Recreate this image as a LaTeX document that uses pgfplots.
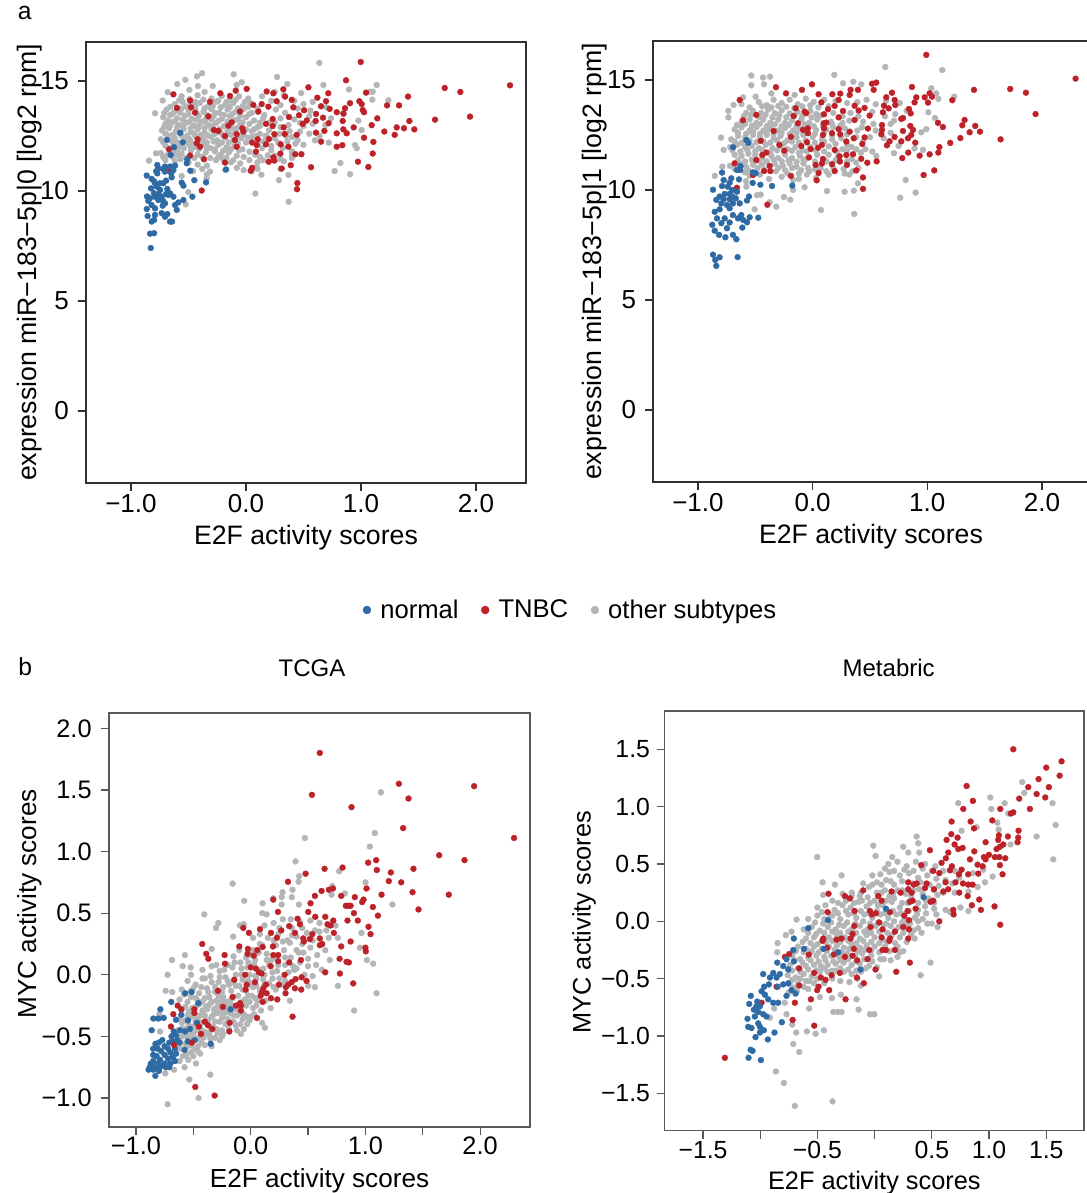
\documentclass[border=0pt]{standalone}
\usepackage{pgfplots}
\pgfplotsset{compat=1.18}
\usepackage{fontspec}
\setmainfont{Liberation Sans}
\definecolor{cblue}{HTML}{2E6BA4}
\definecolor{cred}{HTML}{BE2229}
\definecolor{cgray}{HTML}{B4B5B7}
\definecolor{cframe}{HTML}{303030}
\pgfplotsset{
 base/.style={scale only axis,axis line style={draw=cframe,line width=1pt},
  tick pos=left,xtick pos=bottom,ytick pos=left,
  tick style={draw=cframe,line width=0.9pt},major tick length=6pt,tick align=outside,
  every tick label/.append style={font=\fontsize{19.5}{20}\selectfont},
  label style={font=\fontsize{20}{20}\selectfont}},
 pG/.style={only marks,color=cgray,mark=*,mark size=2.2pt,mark options={solid,draw=cgray,fill=cgray,line width=0.3pt},forget plot},
 pR/.style={only marks,color=cred,mark=*,mark size=2.2pt,mark options={solid,draw=cred,fill=cred,line width=0.3pt},forget plot},
 pB/.style={only marks,color=cblue,mark=*,mark size=2.2pt,mark options={solid,draw=cblue,fill=cblue,line width=0.3pt},forget plot}}
\begin{document}
\begin{tikzpicture}[x=1pt,y=1pt]
\useasboundingbox[fill=white] (0,0) rectangle (815.25,894.75);
\node[font=\fontsize{18.5}{20}\selectfont] at (18.5,885) {a};
\node[font=\fontsize{18.5}{20}\selectfont] at (19,395) {b};
\node[font=\fontsize{18}{20}\selectfont] at (234,393.5) {TCGA};
\node[font=\fontsize{18}{20}\selectfont] at (666.5,393.5) {Metabric};
% ---------- a1
\begin{axis}[base,at={(64.5pt,532.5pt)},anchor=south west,width=330pt,height=330.75pt,
 xmin=-1.391,xmax=2.435,ymin=-3.27,ymax=16.77,
 xtick={-1,0,1,2},xticklabels={−1.0,0.0,1.0,2.0},ytick={0,5,10,15},yticklabels={0,5,10,15},
 y tick label style={xshift=-3.25pt},x tick label style={yshift=1pt},
 xlabel={E2F activity scores},ylabel={expression miR−183−5p|0 [log2 rpm]},
 xlabel style={at={(axis description cs:0.5,-0.123)},anchor=center},
 ylabel style={at={(axis description cs:-0.127,0.5)},anchor=center},
 legend style={at={(axis description cs:1.102,-0.288)},anchor=center,draw=none,fill=none,legend columns=3,font=\fontsize{19.2}{20}\selectfont,/tikz/every even column/.append style={column sep=15pt},/tikz/every odd column/.append style={column sep=5pt}}]
\addlegendimage{only marks,mark=*,mark size=3pt,mark options={draw=cblue,fill=cblue,line width=0.3pt}}\addlegendentry{normal}
\addlegendimage{only marks,mark=*,mark size=3pt,mark options={draw=cred,fill=cred,line width=0.3pt}}\addlegendentry{TNBC}
\addlegendimage{only marks,mark=*,mark size=3pt,mark options={draw=cgray,fill=cgray,line width=0.3pt}}\addlegendentry{other subtypes}
\addplot[pG] coordinates {(0.638,15.82)(-0.107,15.30)(-0.382,15.35)(-0.426,15.21)(-0.527,15.05)(-0.597,14.86)(0.270,15.18)(0.360,14.86)(0.673,14.82)(1.137,14.82)(0.896,14.61)(1.102,14.51)(1.079,14.51)(1.099,14.15)(1.238,14.12)(0.977,13.2)(1.006,12.77)(0.948,12.09)(0.963,11.94)(0.821,11.27)(0.771,10.91)(0.905,10.76)(0.369,10.73)(0.287,10.49)(0.134,10.74)(0.082,9.88)(0.371,9.51)(-0.524,9.39)(-0.501,9.95)(-0.342,10.58)(-0.313,10.88)(-0.559,10.68)(-0.843,11.38)(-0.782,11.71)(-0.791,13.53)(-0.724,14.11)(-0.681,14.49)(-0.492,14.59)(-0.417,14.77)(-0.289,14.77)(-0.081,14.82)(-0.037,14.94)
(-0.56,14.3)(-0.49,14.18)(-0.42,14.35)(-0.36,14.5)(-0.3,14.2)(-0.21,14.32)(-0.14,14.12)(-0.06,14.3)(0.02,14.2)(0.14,14.3)(0.25,14.5)(0.33,14.35)(0.48,14.45)
(-0.62,13.95)(-0.55,14.05)(-0.48,13.9)(-0.40,14.0)(-0.33,13.85)(-0.26,14.05)(-0.18,13.92)(-0.11,14.0)(-0.03,13.85)(0.04,14.0)(0.22,14.1)(0.3,13.9)(0.42,14.1)(0.5,13.95)(0.58,14.05)(0.7,13.8)
(-0.69,13.7)(-0.62,13.6)(-0.56,13.75)(-0.5,13.65)(-0.44,13.75)(-0.37,13.6)(-0.3,13.72)(-0.23,13.55)(-0.16,13.7)(-0.09,13.6)(-0.02,13.72)(0.05,13.55)(0.26,13.7)(0.34,13.55)(0.45,13.75)(0.56,13.65)(0.85,13.5)
(-0.72,13.35)(-0.66,13.45)(-0.6,13.3)(-0.53,13.42)(-0.47,13.28)(-0.41,13.4)(-0.35,13.25)(-0.28,13.42)(-0.21,13.28)(-0.14,13.4)(-0.07,13.25)(0,13.35)(0.07,13.2)(0.16,13.45)(0.3,13.3)(0.42,13.25)(0.55,13.4)(0.74,13.3)
(-0.7,13.05)(-0.64,13.15)(-0.58,13.0)(-0.52,13.1)(-0.45,12.98)(-0.39,13.12)(-0.33,13.0)(-0.26,13.1)(-0.19,12.95)(-0.12,12.85)(-0.05,13.0)(0.03,13.05)(0.1,12.9)(0.2,13.1)(0.37,13.0)(0.47,13.1)(0.58,13.05)(0.69,13.0)
(-0.73,12.75)(-0.67,12.85)(-0.61,12.7)(-0.54,12.82)(-0.48,12.68)(-0.42,12.8)(-0.36,12.65)(-0.3,12.8)(-0.22,12.65)(-0.16,12.72)(-0.09,12.68)(-0.02,12.55)(0.05,12.72)(0.12,12.6)(0.2,12.75)(0.29,12.6)(0.38,12.72)(0.47,12.7)(0.55,12.6)(0.64,12.5)
(-0.74,12.35)(-0.68,12.52)(-0.62,12.4)(-0.56,12.5)(-0.49,12.35)(-0.44,12.5)(-0.37,12.35)(-0.3,12.45)(-0.25,12.3)(-0.18,12.42)(-0.11,12.3)(-0.04,12.4)(0.05,12.45)(0.15,12.25)(0.25,12.4)(0.36,12.25)(0.43,12.15)(0.6,12.3)(0.72,12.2)
(-0.7,12.05)(-0.63,12.15)(-0.58,12.0)(-0.5,12.15)(-0.45,12.0)(-0.37,12.12)(-0.31,11.95)(-0.24,12.1)(-0.17,11.98)(-0.1,12.05)(-0.03,11.9)(0.03,11.78)(0.14,11.95)(0.22,11.85)(0.32,11.95)(0.4,11.8)
(-0.74,11.72)(-0.68,11.65)(-0.62,11.78)(-0.56,11.7)(-0.48,11.82)(-0.42,11.65)(-0.35,11.75)(-0.27,11.8)(-0.22,11.65)(-0.15,11.75)(-0.08,11.6)(-0.02,11.55)(0.12,11.55)(0.19,11.62)(0.3,11.45)(0.4,11.5)
(-0.7,11.4)(-0.62,11.35)(-0.57,11.45)(-0.5,11.3)(-0.42,11.2)(-0.34,11.15)(-0.26,11.4)(-0.2,11.45)(-0.13,11.3)(-0.05,11.25)(0.03,11.4)(0.09,11.1)(0.3,11.0)
(-0.46,10.9)(-0.38,11.0)(-0.18,10.95)(-0.08,11.05)(-0.02,10.95)(0.05,10.9)(0.1,11.0)(-0.34,10.75)
(-0.58,14.12)(-0.44,14.05)(-0.37,14.15)(-0.24,14.1)(-0.17,14.05)(-0.09,14.15)(-0.01,14.05)
(-0.66,13.82)(-0.59,13.75)(-0.52,13.85)(-0.44,13.88)(-0.36,13.75)(-0.29,13.85)(-0.22,13.8)(-0.14,13.82)(-0.07,13.75)(0.02,13.82)(0.1,13.75)
(-0.71,13.55)(-0.64,13.5)(-0.57,13.55)(-0.5,13.5)(-0.43,13.55)(-0.34,13.45)(-0.27,13.55)(-0.19,13.45)(-0.12,13.5)(-0.05,13.42)(0.03,13.5)
(-0.68,13.2)(-0.62,13.15)(-0.55,13.25)(-0.49,13.15)(-0.43,13.25)(-0.37,13.15)(-0.3,13.25)(-0.24,13.18)(-0.16,13.15)(-0.1,13.22)(-0.03,13.12)(0.12,13.1)
(-0.71,12.92)(-0.66,12.95)(-0.6,12.88)(-0.55,12.95)(-0.48,12.85)(-0.41,12.95)(-0.36,12.85)(-0.29,12.95)(-0.23,12.82)(-0.16,12.9)(-0.08,12.85)(0.0,12.8)(0.07,12.8)
(-0.7,12.6)(-0.64,12.55)(-0.58,12.62)(-0.51,12.52)(-0.45,12.6)(-0.39,12.55)(-0.33,12.52)(-0.27,12.6)(-0.2,12.52)(-0.13,12.55)(-0.06,12.5)(0.02,12.42)(0.09,12.5)(0.17,12.5)
(-0.72,12.22)(-0.65,12.28)(-0.59,12.2)(-0.53,12.3)(-0.47,12.18)(-0.41,12.3)(-0.34,12.2)(-0.28,12.25)(-0.21,12.2)(-0.15,12.2)(-0.07,12.15)(0.0,12.2)(0.1,12.1)
(-0.67,11.95)(-0.6,11.88)(-0.54,11.95)(-0.48,11.98)(-0.41,11.9)(-0.34,11.95)(-0.27,11.9)(-0.2,11.82)(-0.13,11.9)(-0.06,11.85)
(-0.72,11.55)(-0.64,11.55)(-0.59,11.6)(-0.52,11.5)(-0.45,11.5)(-0.38,11.55)(-0.31,11.5)(-0.24,11.55)(-0.17,11.52)(-0.11,11.4)
(0.1,13.6)(0.15,13.3)(0.25,13.1)(0.3,12.9)(0.35,12.5)(0.4,12.45)(0.5,12.95)(0.12,12.95)(0.18,12.5)(0.28,12.2)(0.08,11.65)(0.15,11.4)(0.45,12.3)(0.5,12.1)(0.25,11.6)(0.33,11.35)(0.1,11.3)(0.22,12.05)(0.1,12.2)(0.4,11.65)};
\addplot[pR] coordinates {(0.998,15.86)(0.870,15.03)(2.296,14.80)(1.728,14.68)(1.864,14.50)(1.409,14.29)(1.044,14.47)(0.716,14.44)(0.543,14.71)(0.325,14.62)(0.180,14.52)(0.238,14.44)(0.006,14.64)(-0.089,14.56)(-0.223,14.44)(-0.139,14.32)(-0.631,14.39)(-0.486,14.11)(-0.313,14.05)(-0.600,13.77)(-0.478,13.80)(-0.443,13.56)(-0.327,13.39)(0.064,13.91)(0.137,13.95)(0.195,13.83)(0.108,13.61)(0.267,14.08)(0.340,14.29)(0.398,14.14)(0.412,13.80)(0.505,13.67)(0.621,14.24)(0.696,14.08)(0.653,13.85)(0.728,13.73)(0.609,13.50)(0.670,13.33)(0.606,13.18)(0.528,13.20)(0.493,13.05)(0.461,13.44)(0.374,13.36)(0.232,13.27)(0.174,13.05)(0.232,12.95)(0.328,12.89)(0.337,12.59)(0.247,12.58)(0.441,12.55)(0.682,12.73)(0.609,12.65)(0.719,13.08)(0.789,13.58)(0.847,13.52)(0.861,13.76)(0.905,13.99)(0.986,14.08)(1.006,13.95)(1.015,13.68)(1.027,13.58)(1.142,13.30)(1.227,13.89)(1.331,13.89)(1.093,12.99)(0.841,13.18)(0.937,12.89)(0.847,12.80)(0.876,12.62)(0.789,12.62)(1.027,12.42)(1.108,12.23)(1.203,12.70)(1.311,12.89)(1.293,12.55)(1.374,12.85)(1.421,13.18)(1.464,12.80)(1.644,13.24)(1.948,13.38)(0.653,12.24)(0.789,12.01)(0.838,12.08)(1.102,11.70)(0.974,11.33)(1.064,11.09)(0.566,11.08)(0.389,11.17)(0.311,11.02)(0.447,10.36)(0.444,10.08)(0.482,11.67)(0.429,11.67)(0.369,12.01)(0.302,12.12)(0.299,11.70)(0.238,11.53)(0.247,11.38)(0.198,11.33)(0.200,12.36)(0.174,12.12)(0.102,12.35)(0.093,12.09)(0.053,12.20)(0.087,11.79)(0.053,11.05)(0.041,10.92)(-0.031,12.85)(-0.023,12.70)(-0.081,12.58)(-0.095,12.32)(-0.081,12.01)(-0.182,12.50)(-0.153,12.97)(-0.124,13.12)(-0.052,13.61)(-0.278,12.77)(-0.240,12.73)(-0.420,12.35)(-0.428,12.17)(-0.399,12.01)(-0.486,11.61)(-0.365,11.44)(-0.669,11.89)(-0.182,11.29)(-0.385,10.02)(-0.666,10.92)};
\addplot[pB] coordinates {(-0.571,12.65)(-0.687,12.32)(-0.550,12.21)(-0.626,11.99)(-0.655,11.64)(-0.510,11.44)(-0.515,11.26)(-0.484,10.92)(-0.173,10.98)(-0.771,11.18)(-0.617,11.15)(-0.660,11.11)(-0.704,11.11)(-0.762,11.03)(-0.771,10.80)(-0.704,10.88)(-0.631,10.95)(-0.646,10.62)(-0.695,10.47)(-0.863,10.70)(-0.820,10.55)(-0.559,10.38)(-0.544,10.24)(-0.449,10.49)(-0.347,10.39)(-0.466,9.74)(-0.826,10.12)(-0.776,10.20)(-0.747,10.05)(-0.684,10.09)(-0.660,9.89)(-0.631,9.74)(-0.834,9.67)(-0.791,9.74)(-0.733,9.74)(-0.695,9.86)(-0.849,9.55)(-0.762,9.59)(-0.704,9.44)(-0.820,9.36)(-0.791,9.21)(-0.724,9.33)(-0.544,9.59)(-0.588,9.48)(-0.617,9.36)(-0.602,9.14)(-0.863,9.18)(-0.855,8.86)(-0.791,8.91)(-0.733,8.99)(-0.684,8.95)(-0.704,8.83)(-0.820,8.61)(-0.799,8.68)(-0.660,8.61)(-0.643,8.61)(-0.834,8.06)(-0.799,8.08)(-0.828,7.41)(-0.747,10.35)(-0.791,10.35)(-0.718,10.35)(-0.675,9.82)(-0.78,10.9)(-0.72,11.0)(-0.65,10.8)(-0.80,9.9)(-0.72,9.55)(-0.76,9.85)(-0.80,10.45)(-0.86,9.75)};
\end{axis}
% ---------- a2
\begin{axis}[base,at={(489.75pt,533.25pt)},anchor=south west,width=327pt,height=330.75pt,
 xmin=-1.392,xmax=2.41,ymin=-3.27,ymax=16.77,
 xtick={-1,0,1,2},xticklabels={−1.0,0.0,1.0,2.0},ytick={0,5,10,15},yticklabels={0,5,10,15},
 y tick label style={xshift=-3.25pt},x tick label style={yshift=1pt},
 xlabel={E2F activity scores},ylabel={expression miR−183−5p|1 [log2 rpm]},
 xlabel style={at={(axis description cs:0.5,-0.123)},anchor=center},
 ylabel style={at={(axis description cs:-0.134,0.5)},anchor=center}]
\addplot[pG] coordinates {(0.634,15.59)(1.131,15.45)(-0.535,15.2)(-0.433,15.11)(-0.372,15.15)(-0.535,14.76)(-0.424,14.8)(0.189,15.23)(0.265,14.85)(0.355,14.92)(0.424,14.8)(1.035,14.62)(1.078,14.39)(1.096,14.14)(1.235,14.24)(1.009,13.53)(1.067,13.27)(0.991,12.76)(0.947,12.62)(0.962,11.82)(0.889,11.89)(0.709,11.67)(0.811,10.45)(0.898,9.88)(0.764,9.65)(0.363,8.91)(0.073,9.09)(0.125,9.95)(0.279,9.92)(0.360,9.97)(0.395,10.3)(-0.07,10.12)(-0.171,10.0)(-0.195,9.56)(-0.25,9.68)(-0.317,9.24)(-0.375,9.44)(-0.453,9.79)(-0.485,9.76)(-0.506,9.12)(-0.578,10.15)(-0.854,10.64)(-0.787,11.06)(-0.799,12.38)(-0.776,11.82)(-0.735,13.6)(-0.735,13.3)(-0.689,13.86)(-0.607,14.21)(-0.497,14.24)(-0.36,14.39)(-0.157,14.32)(0.555,11.55)
(-0.62,13.9)(-0.55,13.75)(-0.47,14.0)(-0.4,13.85)(-0.34,14.1)(-0.27,13.95)(-0.2,14.1)(-0.13,13.9)(-0.06,14.15)(0.01,14.0)(0.1,14.1)(0.2,14.05)(0.3,13.95)(0.39,14.0)(0.47,14.1)(0.55,13.9)(0.64,14.05)(0.76,13.95)
(-0.58,13.5)(-0.52,13.6)(-0.45,13.5)(-0.39,13.65)(-0.33,13.5)(-0.27,13.62)(-0.2,13.48)(-0.13,13.55)(-0.02,13.6)(0.03,13.45)(0.18,13.5)(0.26,13.35)(0.33,13.5)(0.4,13.35)(0.52,13.55)(0.63,13.35)(0.72,13.45)(0.82,13.6)
(-0.62,13.1)(-0.55,13.2)(-0.49,13.05)(-0.43,13.2)(-0.37,13.05)(-0.3,13.2)(-0.24,13.05)(-0.18,13.15)(-0.1,13.2)(-0.03,13.05)(0.04,13.2)(0.16,13.1)(0.26,13.05)(0.32,13.15)(0.44,13.1)(0.53,13.0)(0.68,13.0)(0.71,13.15)
(-0.68,12.75)(-0.62,12.85)(-0.55,12.7)(-0.49,12.85)(-0.43,12.7)(-0.37,12.82)(-0.3,12.7)(-0.24,12.82)(-0.17,12.7)(-0.11,12.8)(-0.05,12.65)(0.03,12.72)(0.12,12.75)(0.18,12.85)(0.28,12.8)(0.39,12.7)(0.43,12.85)(0.55,12.7)(0.68,12.6)
(-0.71,12.3)(-0.65,12.45)(-0.59,12.38)(-0.52,12.5)(-0.46,12.4)(-0.4,12.5)(-0.34,12.35)(-0.28,12.45)(-0.22,12.25)(-0.14,12.4)(-0.08,12.55)(0.0,12.4)(0.08,12.3)(0.17,12.3)(0.25,12.35)(0.38,12.4)(0.5,12.4)(0.62,12.35)(0.75,12.0)
(-0.72,11.95)(-0.66,12.05)(-0.59,11.95)(-0.53,12.0)(-0.47,11.9)(-0.41,12.05)(-0.35,11.9)(-0.28,12.0)(-0.22,11.85)(-0.15,11.95)(-0.09,11.8)(-0.02,11.95)(0.14,11.98)(0.26,11.85)(0.34,11.95)(0.46,11.85)(0.52,11.75)
(-0.68,11.6)(-0.62,11.55)(-0.56,11.65)(-0.5,11.6)(-0.44,11.45)(-0.36,11.55)(-0.3,11.45)(-0.24,11.6)(-0.18,11.45)(-0.11,11.55)(-0.06,11.4)(0.04,11.6)(0.14,11.6)(0.21,11.75)(0.34,11.4)(0.42,11.7)
(-0.72,11.1)(-0.64,11.2)(-0.58,11.05)(-0.52,11.15)(-0.44,11.15)(-0.33,11.2)(-0.26,11.1)(-0.2,11.2)(-0.14,11.05)(-0.08,11.2)(-0.04,11.0)(0.02,10.95)(0.12,10.85)(0.28,10.75)(0.32,10.7)(0.4,11.0)
(-0.59,10.8)(-0.55,10.65)(-0.46,10.7)(-0.32,10.85)(-0.27,10.6)(-0.22,10.75)(-0.12,10.75)(-0.05,10.7)(0.03,10.55)(0.14,10.7)(-0.17,10.45)(-0.38,10.5)(-0.58,10.4)(-0.12,10.5)
(-0.44,13.8)(-0.36,13.75)(-0.3,13.82)(-0.23,13.78)(-0.16,13.72)(-0.09,13.8)(-0.02,13.85)(0.05,13.75)(0.14,13.8)
(-0.6,13.35)(-0.54,13.4)(-0.47,13.32)(-0.41,13.42)(-0.35,13.3)(-0.29,13.4)(-0.23,13.3)(-0.16,13.38)(-0.09,13.35)(-0.01,13.3)(0.07,13.38)
(-0.66,12.95)(-0.59,13.0)(-0.53,12.92)(-0.46,13.0)(-0.4,12.9)(-0.33,12.98)(-0.27,12.9)(-0.21,12.95)(-0.14,12.9)(-0.07,12.98)(0.01,12.9)(0.09,12.9)(0.17,12.98)(0.24,12.92)
(-0.65,12.6)(-0.58,12.55)(-0.52,12.65)(-0.46,12.55)(-0.4,12.65)(-0.34,12.55)(-0.27,12.6)(-0.2,12.55)(-0.14,12.6)(-0.08,12.5)(0.02,12.55)(0.1,12.6)(0.17,12.5)(0.3,12.52)
(-0.68,12.2)(-0.62,12.15)(-0.55,12.25)(-0.49,12.18)(-0.43,12.22)(-0.37,12.15)(-0.31,12.25)(-0.25,12.12)(-0.18,12.2)(-0.12,12.15)(-0.06,12.25)(0.02,12.15)(0.1,12.2)(0.2,12.1)(0.3,12.05)(0.44,12.2)
(-0.7,11.8)(-0.63,11.75)(-0.57,11.82)(-0.5,11.75)(-0.44,11.82)(-0.37,11.72)(-0.31,11.8)(-0.25,11.72)(-0.18,11.78)(-0.12,11.7)(-0.05,11.75)(0.03,11.8)(0.1,11.75)(0.22,11.5)(0.3,11.78)(0.38,11.85)
(-0.65,11.35)(-0.59,11.3)(-0.53,11.38)(-0.47,11.32)(-0.4,11.3)(-0.34,11.38)(-0.27,11.3)(-0.21,11.35)(-0.14,11.28)(-0.08,11.35)(0.02,11.3)(0.12,11.3)(0.2,11.35)(0.3,11.3)(0.38,11.25)
(-0.68,10.95)(-0.56,10.9)(-0.48,11.0)(-0.42,10.92)(-0.3,11.0)(-0.24,10.9)(-0.18,11.0)(-0.1,10.9)(-0.03,10.85)(0.07,10.98)(0.18,11.0)(0.27,10.95)(0.35,10.85)};
\addplot[pR] coordinates {(0.991,16.14)(2.293,15.06)(1.723,14.59)(1.860,14.42)(1.944,13.45)(1.407,14.55)(1.218,14.08)(0.866,14.68)(1.020,14.39)(1.041,14.24)(0.977,14.21)(1.006,13.97)(0.904,14.21)(0.889,13.98)(0.715,14.09)(0.721,13.86)(0.692,14.42)(0.642,14.21)(0.622,13.83)(0.663,13.71)(0.613,13.53)(0.555,14.88)(0.518,14.83)(0.532,14.55)(0.395,14.55)(0.331,14.55)(0.323,14.32)(0.241,14.38)(0.227,14.09)(0.172,14.35)(0.052,14.35)(0.076,13.98)(-0.006,14.80)(-0.093,14.55)(-0.232,14.39)(-0.320,14.67)(-0.636,14.09)(-0.491,13.41)(-0.607,13.17)(-0.148,13.71)(-0.070,13.56)(-0.055,13.49)(-0.166,13.36)(-0.128,13.03)(0.134,13.67)(0.099,13.44)(0.192,13.82)(0.265,13.59)(0.227,13.30)(0.366,13.83)(0.401,13.61)(0.453,13.73)(0.366,13.18)(0.497,13.38)(0.119,13.06)(0.096,13.03)(0.099,12.80)(-0.041,12.80)(-0.084,12.73)(-0.041,12.58)(0.090,12.50)(0.169,12.58)(0.227,12.76)(0.241,12.53)(0.323,12.65)(0.294,12.20)(0.358,12.35)(0.453,12.39)(0.482,12.79)(0.605,12.95)(0.605,12.73)(0.599,12.53)(0.788,13.27)(0.773,13.23)(0.840,13.68)(0.855,13.48)(0.852,12.91)(0.875,12.73)(0.788,12.68)(0.860,12.50)(0.831,12.35)(0.773,12.21)(0.715,12.41)(0.671,12.21)(0.648,12.03)(0.895,12.15)(1.093,13.05)(1.136,12.86)(1.325,13.18)(1.305,12.94)(1.418,12.91)(1.369,12.62)(1.459,12.65)(1.639,12.30)(1.288,12.36)(1.200,12.14)(1.105,11.95)(1.096,11.70)(1.020,11.62)(0.933,11.56)(0.834,11.70)(0.782,11.45)(1.061,10.89)(0.968,10.68)(-0.340,12.68)(-0.189,12.42)(-0.453,12.23)(-0.290,12.05)(-0.247,11.79)(-0.404,11.70)(-0.439,11.59)(-0.491,11.36)(-0.680,11.21)(-0.375,11.09)(-0.424,10.86)(-0.369,10.86)(-0.520,10.68)(-0.189,10.64)(-0.032,11.48)(-0.099,12.00)(-0.049,12.17)(-0.017,11.86)(0.047,11.92)(0.081,12.05)(0.192,11.82)(0.433,12.09)(0.352,11.62)(0.294,11.59)(0.235,11.53)(0.238,11.29)(0.090,11.41)(0.081,11.20)(0.026,11.14)(0.169,11.17)(0.299,11.14)(0.424,11.42)(0.477,11.24)(0.558,11.30)(0.192,10.86)(0.052,10.77)(0.035,10.44)(0.381,10.89)(0.439,10.57)(0.439,10.05)(-0.395,9.33)(-0.66,10.1)};
\addplot[pB] coordinates {(-0.578,12.27)(-0.561,12.14)(-0.694,11.94)(-0.628,11.09)(-0.660,10.91)(-0.631,10.91)(-0.520,10.80)(-0.497,10.76)(-0.790,10.79)(-0.709,10.53)(-0.642,10.48)(-0.776,10.45)(-0.724,10.33)(-0.523,10.32)(-0.456,10.24)(-0.354,10.18)(-0.177,10.20)(-0.869,10.01)(-0.790,10.18)(-0.700,10.00)(-0.660,9.92)(-0.724,9.82)(-0.767,9.82)(-0.811,9.70)(-0.840,9.55)(-0.776,9.58)(-0.724,9.58)(-0.555,9.70)(-0.572,9.52)(-0.636,9.39)(-0.796,9.39)(-0.747,9.32)(-0.695,9.39)(-0.724,9.17)(-0.811,9.12)(-0.854,9.01)(-0.767,8.71)(-0.695,8.86)(-0.651,8.71)(-0.622,8.86)(-0.607,8.64)(-0.549,8.76)(-0.474,8.74)(-0.572,8.53)(-0.613,8.29)(-0.875,8.42)(-0.834,8.71)(-0.796,8.49)(-0.724,8.52)(-0.747,8.26)(-0.854,8.15)(-0.816,7.96)(-0.761,7.85)(-0.695,7.96)(-0.665,7.76)(-0.869,7.06)(-0.811,6.94)(-0.849,6.82)(-0.840,6.55)(-0.654,6.95)(-0.70,9.70)(-0.67,9.62)(-0.74,10.15)};
\end{axis}
% ---------- b1
\begin{axis}[base,at={(81.75pt,49.5pt)},anchor=south west,width=315.75pt,height=310.5pt,
 axis line style={draw=black!65,line width=0.9pt},tick style={draw=black!65,line width=0.9pt},
 xmin=-1.235,xmax=2.435,ymin=-1.235,ymax=2.124,
 xtick={-1,-0.5,0,0.5,1,1.5,2},xticklabels={−1.0,,0.0,,1.0,,2.0},
 ytick={-1,-0.5,0,0.5,1,1.5,2},yticklabels={−1.0,−0.5,0.0,0.5,1.0,1.5,2.0},
 every tick label/.append style={font=\fontsize{19}{20}\selectfont},
 y tick label style={xshift=-3.5pt},x tick label style={yshift=2pt},
 xlabel={E2F activity scores},ylabel={MYC activity scores},
 label style={font=\fontsize{19.6}{20}\selectfont},
 xlabel style={at={(axis description cs:0.5,-0.13)},anchor=center},
 ylabel style={at={(axis description cs:-0.188,0.539)},anchor=center}]
\addplot[pG] coordinates {(1.135,1.48)(1.082,1.15)(1.039,1.04)(0.473,1.11)(0.391,0.92)(0.772,0.84)(0.423,0.80)(0.418,0.755)(-0.157,0.74)(1.001,0.75)(1.236,0.57)(0.711,0.72)(0.821,0.66)(0.705,0.65)(-0.056,0.60)(0.278,0.67)(0.365,0.69)(0.359,0.63)(0.270,0.63)(0.197,0.62)(0.104,0.58)(0.270,0.57)(0.420,0.57)(0.101,0.50)(0.139,0.49)(-0.404,0.49)(-0.282,0.42)(-0.303,0.38)(-0.094,0.40)(-0.06,0.41)(0.966,0.34)(0.952,0.22)(1.013,0.12)(1.068,0.09)(1.097,-0.15)(0.902,-0.29)(0.760,-0.09)(0.690,0.12)(0.560,-0.10)(0.502,-0.09)(-0.573,0.16)(-0.686,0.12)(-0.593,0.07)(-0.523,0.06)(-0.724,0.0)(-0.520,0.0)(-0.741,-0.13)(-0.683,-0.14)(-0.340,0.21)(-0.152,0.31)(-0.352,-0.81)(-0.535,-0.85)(-0.454,-1.0)(-0.724,-1.05)(-0.477,-0.72)(-0.544,-0.69)(-0.576,-0.75)(-0.668,-0.77)(-0.744,-0.80)(-0.085,-0.48)(0.124,-0.43)(0.342,-0.21)(0.174,-0.27)(-0.79,-0.46)(-0.796,-0.32)
(0.12,0.4)(0.2,0.42)(0.28,0.45)(0.36,0.38)(0.43,0.43)(0.52,0.44)(0.6,0.42)(0.66,0.36)(0.74,0.4)(0.02,0.3)(0.08,0.33)(0.15,0.3)(0.24,0.33)(0.32,0.28)(0.4,0.31)(0.49,0.34)(0.56,0.36)(0.68,0.3)(0.76,0.3)
(-0.15,0.15)(-0.1,0.2)(-0.04,0.14)(0.02,0.2)(0.08,0.25)(0.14,0.17)(0.22,0.24)(0.29,0.2)(0.34,0.26)(0.4,0.2)(0.46,0.18)(0.52,0.22)(0.58,0.16)(0.65,0.2)
(-0.42,0.04)(-0.34,0.07)(-0.27,0.03)(-0.2,0.08)(-0.14,0.1)(-0.08,0.05)(-0.02,0.1)(0.04,0.12)(0.11,0.05)(0.18,0.12)(0.24,0.08)(0.3,0.14)(0.37,0.07)(0.43,0.1)(0.5,0.13)(0.57,0.08)(0.62,0.04)
(-0.55,-0.05)(-0.48,-0.08)(-0.4,-0.03)(-0.34,-0.06)(-0.27,-0.02)(-0.2,-0.05)(-0.13,0.0)(-0.07,-0.04)(-0.01,0.0)(0.05,-0.03)(0.12,0.0)(0.19,0.02)(0.25,-0.03)(0.33,0.02)(0.4,0.05)(0.47,0.0)(0.54,-0.01)
(-0.6,-0.12)(-0.52,-0.13)(-0.45,-0.15)(-0.38,-0.11)(-0.31,-0.14)(-0.24,-0.1)(-0.17,-0.13)(-0.1,-0.09)(-0.04,-0.13)(0.02,-0.1)(0.08,-0.13)(0.16,-0.07)(0.22,-0.12)(0.3,-0.05)
(-0.62,-0.2)(-0.55,-0.22)(-0.48,-0.19)(-0.42,-0.22)(-0.36,-0.18)(-0.3,-0.21)(-0.24,-0.18)(-0.18,-0.21)(-0.11,-0.17)(-0.05,-0.2)(0.01,-0.17)(0.06,-0.21)(0.13,-0.21)
(-0.6,-0.28)(-0.54,-0.3)(-0.48,-0.26)(-0.42,-0.29)(-0.37,-0.25)(-0.32,-0.28)(-0.27,-0.24)(-0.22,-0.27)(-0.16,-0.25)(-0.1,-0.28)(-0.04,-0.25)(0.02,-0.27)(0.09,-0.29)
(-0.62,-0.36)(-0.57,-0.37)(-0.51,-0.34)(-0.46,-0.35)(-0.4,-0.33)(-0.34,-0.34)(-0.29,-0.31)(-0.24,-0.33)(-0.18,-0.31)(-0.12,-0.33)(-0.06,-0.32)(0.0,-0.34)(0.1,-0.39)
(-0.63,-0.45)(-0.57,-0.44)(-0.5,-0.42)(-0.44,-0.44)(-0.38,-0.4)(-0.33,-0.42)(-0.27,-0.38)(-0.22,-0.4)(-0.15,-0.38)(-0.09,-0.4)(-0.03,-0.4)(-0.24,-0.48)(-0.29,-0.47)
(-0.62,-0.53)(-0.56,-0.5)(-0.5,-0.48)(-0.44,-0.5)(-0.39,-0.47)(-0.35,-0.52)(-0.27,-0.53)
(-0.61,-0.6)(-0.55,-0.58)(-0.49,-0.6)(-0.43,-0.55)(-0.59,-0.66)(-0.52,-0.63)(-0.46,-0.62)(-0.62,-0.7)
(-0.56,-0.65)(-0.5,-0.66)(-0.44,-0.64)(-0.63,-0.57)(-0.57,-0.56)(-0.52,-0.57)(-0.46,-0.58)(-0.4,-0.57)(-0.34,-0.58)
(-0.6,-0.5)(-0.53,-0.51)(-0.47,-0.52)(-0.41,-0.51)(-0.36,-0.49)(-0.31,-0.51)(-0.25,-0.5)
(-0.6,-0.44)(-0.54,-0.46)(-0.47,-0.45)(-0.41,-0.46)(-0.35,-0.45)(-0.3,-0.44)(-0.25,-0.45)(-0.19,-0.44)(-0.12,-0.45)(-0.06,-0.44)
(-0.6,-0.39)(-0.54,-0.41)(-0.48,-0.38)(-0.43,-0.39)(-0.37,-0.37)(-0.31,-0.38)(-0.25,-0.35)(-0.2,-0.36)(-0.13,-0.41)(-0.07,-0.36)(-0.01,-0.37)
(-0.55,-0.33)(-0.49,-0.31)(-0.44,-0.33)(-0.38,-0.28)(-0.32,-0.32)(-0.26,-0.3)(-0.21,-0.3)(-0.15,-0.33)(-0.09,-0.31)(-0.03,-0.34)(0.03,-0.32)
(-0.57,-0.26)(-0.51,-0.27)(-0.45,-0.24)(-0.39,-0.26)(-0.35,-0.23)(-0.29,-0.26)(-0.25,-0.21)(-0.19,-0.24)(-0.13,-0.28)(-0.07,-0.24)(-0.01,-0.22)(0.05,-0.25)
(-0.58,-0.16)(-0.52,-0.18)(-0.46,-0.21)(-0.4,-0.19)(-0.34,-0.22)(-0.28,-0.17)(-0.22,-0.22)(-0.16,-0.19)(-0.08,-0.22)(-0.02,-0.17)(0.04,-0.19)
(-0.5,-0.11)(-0.43,-0.1)(-0.37,-0.14)(-0.31,-0.1)(-0.25,-0.14)(-0.19,-0.08)(-0.13,-0.09)(-0.07,-0.12)(-0.01,-0.08)(0.05,-0.09)(0.12,-0.08)(0.2,-0.1)
(-0.42,-0.03)(-0.35,-0.01)(-0.28,-0.06)(-0.22,-0.02)(-0.15,-0.06)(-0.08,0.0)(-0.02,-0.05)(0.04,-0.01)(0.11,-0.04)(0.19,-0.03)(0.26,-0.08)
(-0.3,0.08)(-0.23,0.04)(-0.16,0.06)(-0.09,0.1)(-0.03,0.06)(0.03,0.08)(0.09,0.04)(0.16,0.08)(0.23,0.03)(0.3,0.08)(0.38,0.04)
(0.0,0.16)(0.07,0.18)(0.14,0.12)(0.21,0.14)(0.28,0.27)(0.35,0.14)(0.42,0.18)(0.5,0.07)(0.1,0.24)(0.2,0.28)(0.36,0.32)(0.45,0.25)(0.54,0.28)(0.6,0.35)(0.25,0.38)(0.35,0.45)(0.45,0.38)};
\addplot[pB] coordinates {(-0.570,-0.15)(-0.515,-0.14)(-0.456,-0.23)(-0.692,-0.22)(-0.787,-0.28)(-0.175,-0.28)(-0.848,-0.355)(-0.805,-0.355)(-0.758,-0.35)(-0.651,-0.365)(-0.605,-0.325)(-0.546,-0.37)(-0.468,-0.39)(-0.863,-0.45)(-0.616,-0.45)(-0.573,-0.46)(-0.529,-0.44)(-0.349,-0.56)(-0.488,-0.53)(-0.549,-0.54)(-0.576,-0.61)(-0.831,-0.82)
(-0.67,-0.46)(-0.65,-0.49)(-0.69,-0.5)(-0.64,-0.53)(-0.68,-0.54)(-0.62,-0.55)(-0.71,-0.55)(-0.8,-0.55)(-0.77,-0.53)(-0.83,-0.56)(-0.75,-0.58)(-0.72,-0.6)(-0.66,-0.6)(-0.85,-0.6)(-0.81,-0.6)(-0.78,-0.62)(-0.7,-0.63)(-0.65,-0.64)(-0.85,-0.65)(-0.82,-0.66)(-0.75,-0.65)(-0.68,-0.67)(-0.72,-0.68)(-0.79,-0.69)(-0.85,-0.7)(-0.87,-0.72)(-0.81,-0.72)(-0.75,-0.72)(-0.7,-0.72)(-0.66,-0.7)(-0.88,-0.75)(-0.84,-0.75)(-0.8,-0.76)(-0.78,-0.74)(-0.74,-0.75)(-0.71,-0.75)(-0.85,-0.77)(-0.89,-0.77)(-0.8,-0.78)};
\addplot[pR] coordinates {(0.603,1.80)(0.534,1.46)(1.292,1.55)(1.376,1.43)(1.948,1.53)(0.879,1.36)(1.329,1.19)(2.296,1.11)(1.643,0.97)(1.864,0.93)(1.727,0.65)(1.463,0.53)(1.411,0.67)(1.419,0.86)(1.222,0.83)(1.204,0.76)(1.312,0.75)(1.141,0.65)(1.094,0.93)(1.024,0.91)(1.100,0.85)(0.801,0.87)(0.644,0.86)(0.479,0.82)(0.325,0.755)(1.010,0.70)(0.717,0.70)(0.682,0.69)(0.618,0.68)(0.560,0.64)(0.789,0.64)(0.908,0.63)(0.984,0.61)(0.972,0.59)(0.830,0.56)(0.850,0.56)(0.871,0.56)(1.065,0.55)(0.900,0.50)(1.109,0.48)(0.522,0.58)(0.502,0.51)(0.563,0.47)(0.650,0.47)(0.720,0.44)(0.844,0.44)(0.934,0.44)(1.027,0.39)(1.045,0.33)(0.670,0.41)(0.696,0.40)(0.725,0.34)(0.429,0.41)(0.409,0.455)(0.336,0.395)(0.197,0.61)(0.238,0.51)(0.267,0.36)(0.386,0.34)(0.081,0.37)(-0.064,0.38)(-0.015,0.34)(0.177,0.34)(0.229,0.30)(0.458,0.295)(0.464,0.27)(0.516,0.29)(0.537,0.33)(0.603,0.295)(0.603,0.24)(0.624,0.25)(0.789,0.23)(0.871,0.27)(1.000,0.22)(1.004,0.19)(-0.422,0.25)(-0.387,0.17)(-0.369,0.13)(-0.227,0.16)(-0.224,0.09)(-0.099,0.23)(-0.024,0.21)(-0.027,0.17)(0.028,0.155)(0.057,0.20)(0.104,0.225)(0.194,0.23)(0.197,0.16)(0.240,0.16)(0.240,0.11)(0.336,0.10)(0.438,0.12)(0.775,0.13)(0.836,0.105)(0.856,0.10)(0.650,0.02)(0.778,0.01)(0.894,-0.07)(0.487,-0.05)(0.444,-0.02)(0.391,-0.035)(0.357,-0.06)(0.328,-0.08)(0.307,-0.10)(0.304,-0.15)(0.386,-0.11)(0.441,-0.12)(0.296,0.0)(0.246,-0.08)(0.174,0.07)(0.095,0.01)(0.072,0.02)(0.046,0.05)(0.000,0.06)(-0.047,-0.0)(0.037,-0.06)(-0.035,-0.08)(-0.044,-0.12)(-0.143,-0.04)(-0.285,-0.13)(-0.157,-0.18)(-0.242,-0.26)(-0.128,-0.25)(-0.093,-0.23)(-0.085,-0.25)(-0.085,-0.29)(0.133,-0.08)(0.110,-0.11)(0.101,-0.14)(0.139,-0.15)(0.087,-0.17)(0.104,-0.22)(0.177,-0.19)(0.232,-0.20)(0.055,-0.35)(0.365,-0.34)(-0.183,-0.39)(-0.186,-0.46)(-0.401,-0.38)(-0.372,-0.41)(-0.334,-0.44)(-0.451,-0.42)(-0.433,-0.48)(-0.512,-0.55)(-0.668,-0.57)(-0.695,-0.42)(-0.674,-0.32)(-0.636,-0.25)(-0.605,-0.28)(-0.491,-0.28)(-0.491,-0.31)(-0.483,-0.91)(-0.314,-0.98)};
\end{axis}
% ---------- b2
\begin{axis}[base,at={(498.5pt,46.7pt)},anchor=south west,width=314.5pt,height=314.8pt,
 axis line style={draw=black!65,line width=0.9pt},tick style={draw=black!65,line width=0.9pt},
 xmin=-1.835,xmax=1.83,ymin=-1.826,ymax=1.834,
 xtick={-1.5,-1,-0.5,0,0.5,1,1.5},xticklabels={−1.5,,−0.5,,0.5,1.0,1.5},
 ytick={-1.5,-1,-0.5,0,0.5,1,1.5},yticklabels={−1.5,−1.0,−0.5,0.0,0.5,1.0,1.5},
 every tick label/.append style={font=\fontsize{18.6}{20}\selectfont},
 y tick label style={xshift=-1.5pt},x tick label style={yshift=1.5pt},
 label style={font=\fontsize{19}{20}\selectfont},
 xlabel={E2F activity scores},ylabel={MYC activity scores},
 xlabel style={at={(axis description cs:0.5,-0.124)},anchor=center},
 ylabel style={at={(axis description cs:-0.192,0.497)},anchor=center}]
\addplot[pG] coordinates {(1.290,1.215)(1.308,1.12)(1.555,1.03)(1.582,0.84)(1.416,0.74)(1.561,0.54)(1.011,1.08)(1.020,0.98)(1.136,1.03)(1.168,0.94)(0.731,1.03)(0.760,0.79)(0.891,0.82)(1.072,0.86)(1.084,0.80)(0.367,0.74)(-0.012,0.66)(0.008,0.57)(0.250,0.65)(-0.502,0.56)(0.154,0.56)(0.294,0.60)(0.381,0.68)(0.390,0.60)(1.188,0.67)(1.031,0.39)(0.964,0.34)(-0.455,0.34)(-0.289,0.40)(-0.347,0.32)(-0.682,0.015)(-0.776,-0.12)(-0.726,-0.09)(-0.848,-0.19)(-0.851,-0.27)(0.489,-0.36)(0.402,-0.47)(0.040,-0.48)(-0.158,-0.68)(-0.140,-0.77)(-0.041,-0.81)(-0.003,-0.81)(-0.362,-0.79)(-0.324,-0.79)(-0.289,-0.79)(-0.373,-0.67)(-0.295,-0.64)(-0.478,-0.66)(-0.572,-0.76)(-0.770,-0.81)(-0.720,-0.90)(-0.592,-0.96)(-0.685,-0.97)(-0.516,-0.98)(-0.443,-0.95)(-0.711,-1.07)(-0.659,-1.14)(-0.863,-1.31)(-0.793,-1.41)(-0.697,-1.61)(-0.368,-1.57)(-0.878,-0.76)(-0.785,-0.71)(-0.915,-0.84)
(0.12,0.5)(0.05,0.41)(0.13,0.43)(0.2,0.52)(0.28,0.48)(0.36,0.52)(0.44,0.5)(0.53,0.48)(0.6,0.44)(-0.02,0.4)(0.06,0.32)(0.14,0.35)(0.22,0.4)(0.3,0.42)(0.38,0.38)(0.46,0.4)(0.54,0.37)(0.62,0.36)(0.74,0.38)(0.86,0.42)(0.95,0.45)
(-0.45,0.23)(-0.37,0.18)(-0.28,0.24)(-0.2,0.22)(-0.12,0.25)(-0.05,0.3)(0.02,0.25)(0.09,0.27)(0.16,0.24)(0.24,0.27)(0.32,0.22)(0.39,0.28)(0.47,0.2)(0.55,0.23)(0.7,0.25)(0.82,0.26)(0.9,0.3)
(-0.5,0.12)(-0.43,0.14)(-0.35,0.1)(-0.28,0.14)(-0.21,0.12)(-0.14,0.17)(-0.07,0.13)(0.0,0.18)(0.07,0.14)(0.15,0.17)(0.22,0.12)(0.29,0.16)(0.38,0.1)(0.44,0.13)(0.52,0.11)(0.62,0.1)(0.75,0.12)(0.82,0.09)
(-0.58,0.02)(-0.5,0.05)(-0.44,0.02)(-0.37,0.05)(-0.3,0.02)(-0.23,0.06)(-0.16,0.03)(-0.09,0.06)(-0.02,0.03)(0.05,0.06)(0.12,0.03)(0.19,0.06)(0.26,0.02)(0.35,0.03)(0.42,0.02)(0.46,-0.02)(0.55,-0.05)(0.66,0.08)
(-0.62,-0.07)(-0.55,-0.05)(-0.48,-0.08)(-0.41,-0.05)(-0.34,-0.07)(-0.27,-0.04)(-0.2,-0.07)(-0.13,-0.04)(-0.06,-0.07)(0.01,-0.04)(0.08,-0.03)(0.14,-0.04)(0.21,-0.05)(0.28,-0.03)(0.34,-0.08)(0.41,-0.1)
(-0.6,-0.15)(-0.53,-0.14)(-0.46,-0.17)(-0.4,-0.14)(-0.33,-0.12)(-0.26,-0.14)(-0.19,-0.12)(-0.13,-0.15)(-0.07,-0.12)(0.0,-0.14)(0.07,-0.16)(0.15,-0.12)(0.22,-0.14)(0.35,-0.15)
(-0.67,-0.22)(-0.6,-0.24)(-0.53,-0.22)(-0.46,-0.24)(-0.4,-0.22)(-0.33,-0.21)(-0.27,-0.23)(-0.2,-0.2)(-0.13,-0.23)(-0.07,-0.21)(0.0,-0.22)(0.09,-0.22)(0.2,-0.22)(0.25,-0.26)
(-0.72,-0.3)(-0.65,-0.33)(-0.58,-0.32)(-0.51,-0.3)(-0.44,-0.31)(-0.38,-0.3)(-0.31,-0.31)(-0.24,-0.28)(-0.17,-0.3)(-0.11,-0.28)(-0.03,-0.3)(0.08,-0.33)(0.2,-0.31)
(-0.74,-0.38)(-0.67,-0.41)(-0.6,-0.39)(-0.53,-0.38)(-0.47,-0.39)(-0.41,-0.38)(-0.34,-0.37)(-0.27,-0.36)(-0.2,-0.38)(-0.13,-0.37)(-0.05,-0.39)(0.02,-0.4)
(-0.76,-0.47)(-0.69,-0.49)(-0.62,-0.46)(-0.55,-0.48)(-0.48,-0.44)(-0.41,-0.44)(-0.34,-0.43)(-0.27,-0.44)(-0.2,-0.46)(-0.12,-0.44)
(-0.74,-0.55)(-0.67,-0.54)(-0.6,-0.52)(-0.53,-0.54)(-0.44,-0.54)(-0.22,-0.53)(-0.12,-0.56)
(-0.75,-0.62)(-0.68,-0.61)(-0.58,-0.59)
(-0.7,-0.58)(-0.62,-0.57)(-0.72,-0.51)(-0.65,-0.5)(-0.57,-0.52)(-0.5,-0.5)(-0.37,-0.5)(-0.3,-0.52)(-0.15,-0.5)
(-0.72,-0.43)(-0.65,-0.44)(-0.58,-0.42)(-0.51,-0.43)(-0.44,-0.41)(-0.37,-0.43)(-0.3,-0.41)(-0.23,-0.42)(-0.16,-0.43)(-0.08,-0.41)
(-0.7,-0.34)(-0.63,-0.36)(-0.56,-0.34)(-0.49,-0.35)(-0.43,-0.34)(-0.36,-0.35)(-0.3,-0.34)(-0.23,-0.33)(-0.16,-0.35)(-0.09,-0.33)(-0.02,-0.35)(0.05,-0.33)(0.14,-0.34)
(-0.69,-0.26)(-0.62,-0.27)(-0.55,-0.26)(-0.49,-0.27)(-0.42,-0.26)(-0.35,-0.25)(-0.29,-0.27)(-0.22,-0.24)(-0.15,-0.26)(-0.09,-0.25)(-0.03,-0.26)(0.04,-0.27)(0.13,-0.26)(0.22,-0.27)
(-0.63,-0.18)(-0.56,-0.19)(-0.5,-0.2)(-0.43,-0.18)(-0.37,-0.17)(-0.3,-0.18)(-0.23,-0.17)(-0.16,-0.19)(-0.1,-0.17)(-0.03,-0.18)(0.04,-0.19)(0.11,-0.18)(0.18,-0.19)(0.28,-0.18)
(-0.58,-0.1)(-0.51,-0.11)(-0.44,-0.1)(-0.37,-0.09)(-0.3,-0.1)(-0.23,-0.09)(-0.16,-0.1)(-0.09,-0.09)(-0.03,-0.1)(0.04,-0.09)(0.11,-0.1)(0.18,-0.08)(0.25,-0.1)(0.32,-0.11)(0.38,-0.06)
(-0.52,-0.01)(-0.45,-0.02)(-0.38,-0.01)(-0.31,-0.03)(-0.24,-0.01)(-0.17,-0.02)(-0.1,0.0)(-0.04,-0.02)(0.03,-0.01)(0.1,-0.02)(0.17,0.0)(0.24,-0.01)(0.31,-0.02)(0.38,0.0)(0.5,-0.02)
(-0.46,0.08)(-0.39,0.06)(-0.32,0.07)(-0.25,0.09)(-0.18,0.07)(-0.12,0.09)(-0.05,0.07)(0.02,0.09)(0.09,0.07)(0.16,0.09)(0.23,0.07)(0.3,0.09)(0.37,0.06)(0.45,0.07)(0.54,0.06)
(-0.32,0.16)(-0.25,0.18)(-0.18,0.16)(-0.11,0.18)(-0.04,0.16)(0.03,0.14)(0.1,0.18)(0.17,0.2)(0.24,0.16)(0.31,0.18)(0.38,0.16)(0.45,0.18)(0.52,0.16)
(-0.2,0.25)(-0.13,0.22)(-0.06,0.21)(0.06,0.25)(0.13,0.22)(0.2,0.27)(0.27,0.24)(0.34,0.27)(0.42,0.24)(0.52,0.27)(0.6,0.25)
(-0.1,0.33)(-0.02,0.32)(0.02,0.34)(0.1,0.36)(0.17,0.32)(0.24,0.35)(0.33,0.33)(0.4,0.34)(0.48,0.32)(0.56,0.31)(0.68,0.33)
(0.09,0.46)(0.17,0.44)(0.26,0.45)(0.34,0.44)(0.42,0.46)(0.5,0.44)(0.7,0.44)};
\addplot[pR] coordinates {(1.212,1.50)(1.634,1.395)(1.500,1.34)(1.617,1.27)(1.433,1.24)(1.343,1.17)(1.523,1.17)(1.416,1.11)(1.491,1.08)(1.264,1.07)(1.357,0.98)(1.212,0.95)(1.191,0.94)(1.098,0.98)(1.028,0.88)(0.804,1.18)(0.859,1.05)(0.775,0.98)(0.673,0.87)(0.839,0.87)(0.868,0.81)(0.670,0.76)(1.258,0.79)(1.255,0.73)(1.249,0.69)(1.165,0.74)(1.086,0.75)(1.08,0.71)(0.970,0.69)(1.124,0.67)(1.095,0.65)(1.066,0.63)(1.142,0.55)(1.09,0.56)(1.051,0.56)(0.999,0.58)(0.955,0.56)(0.970,0.54)(0.871,0.61)(0.833,0.54)(0.900,0.494)(0.944,0.48)(1.095,0.49)(1.118,0.41)(0.906,0.416)(0.818,0.41)(0.760,0.45)(0.737,0.41)(0.675,0.48)(0.658,0.445)(0.623,0.55)(0.585,0.51)(0.644,0.60)(0.725,0.73)(0.629,0.71)(0.699,0.67)(0.731,0.63)(0.769,0.64)(0.483,0.62)(0.407,0.49)(0.512,0.44)(0.565,0.42)(0.620,0.34)(0.707,0.34)(0.772,0.33)(0.818,0.32)(0.856,0.32)(0.813,0.22)(0.740,0.25)(0.643,0.28)(0.600,0.26)(0.454,0.33)(0.44,0.29)(0.367,0.33)(0.343,0.32)(0.294,0.34)(0.294,0.28)(0.323,0.25)(0.148,0.26)(0.227,0.25)(0.061,0.18)(0.032,0.22)(-0.100,0.27)(-0.260,0.22)(-0.216,0.20)(-0.403,0.24)(0.914,0.19)(0.850,0.14)(0.929,0.10)(1.048,0.13)(1.098,-0.03)(0.565,0.0)(0.687,0.10)(0.690,0.06)(0.512,0.18)(0.489,0.17)(0.518,0.28)(0.308,0.17)(0.332,0.18)(0.358,0.11)(0.288,0.09)(0.259,0.05)(0.300,0.01)(0.250,-0.05)(0.300,-0.07)(0.294,-0.15)(0.177,-0.09)(0.134,-0.15)(0.128,-0.17)(0.069,-0.07)(0.061,-0.14)(0.040,-0.01)(-0.035,-0.05)(0.011,0.07)(-0.041,0.09)(-0.024,0.06)(0.134,0.08)(-0.175,0.09)(-0.411,0.08)(-0.178,-0.04)(-0.210,-0.15)(-0.193,-0.11)(-0.289,-0.15)(-0.333,-0.16)(-0.449,-0.15)(-0.455,-0.17)(-0.414,-0.23)(-0.575,-0.29)(-0.356,-0.29)(-0.260,-0.31)(-0.181,-0.24)(-0.193,-0.30)(-0.152,-0.34)(-0.047,-0.25)(-0.062,-0.33)(0.069,-0.25)(0.098,-0.25)(0.177,-0.25)(0.308,-0.36)(0.189,-0.44)(0.008,-0.42)(-0.155,-0.49)(-0.094,-0.54)(-0.304,-0.45)(-0.376,-0.47)(-0.429,-0.51)(-0.470,-0.49)(-0.528,-0.45)(-0.490,-0.57)(-0.502,-0.60)(-0.397,-0.60)(-0.557,-0.68)(-0.254,-0.68)(-0.659,-0.41)(-0.659,-0.56)(-0.697,-0.71)(-0.857,-0.57)(-0.988,-0.71)(-0.717,-0.86)(-0.528,-0.91)(-1.309,-1.19)(-0.784,-0.31)(-0.746,-0.285)};
\addplot[pB] coordinates {(0.428,0.21)(0.099,0.11)(-0.408,0.01)(-0.580,-0.06)(-0.706,-0.15)(-0.711,-0.25)(-0.618,-0.24)(-0.446,-0.24)(-0.318,-0.27)(-0.123,-0.42)(-0.851,-0.36)(-0.770,-0.33)(-0.706,-0.35)(-0.799,-0.39)(-0.755,-0.42)(-0.974,-0.46)(-0.886,-0.45)(-0.828,-0.46)(-0.915,-0.49)(-0.857,-0.49)(-0.755,-0.54)(-0.799,-0.55)(-0.848,-0.57)(-0.924,-0.55)(-0.965,-0.57)(-0.988,-0.61)(-0.726,-0.60)(-0.691,-0.63)(-0.770,-0.65)(-0.959,-0.64)(-0.930,-0.68)(-0.886,-0.71)(-0.843,-0.71)(-1.082,-0.65)(-1.096,-0.72)(-1.026,-0.70)(-1.032,-0.74)(-1.003,-0.74)(-1.055,-0.77)(-1.017,-0.79)(-1.047,-0.83)(-0.974,-0.81)(-0.945,-0.83)(-1.111,-0.85)(-1.017,-0.89)(-1.105,-0.92)(-1.076,-0.93)(-1.003,-0.92)(-0.968,-0.95)(-1.003,-0.97)(-1.041,-1.01)(-0.811,-0.88)(-0.875,-0.97)(-0.933,-1.03)(-1.084,-1.12)(-1.067,-1.13)(-1.102,-1.19)(-0.994,-1.21)};
\end{axis}
\end{tikzpicture}
\end{document}
